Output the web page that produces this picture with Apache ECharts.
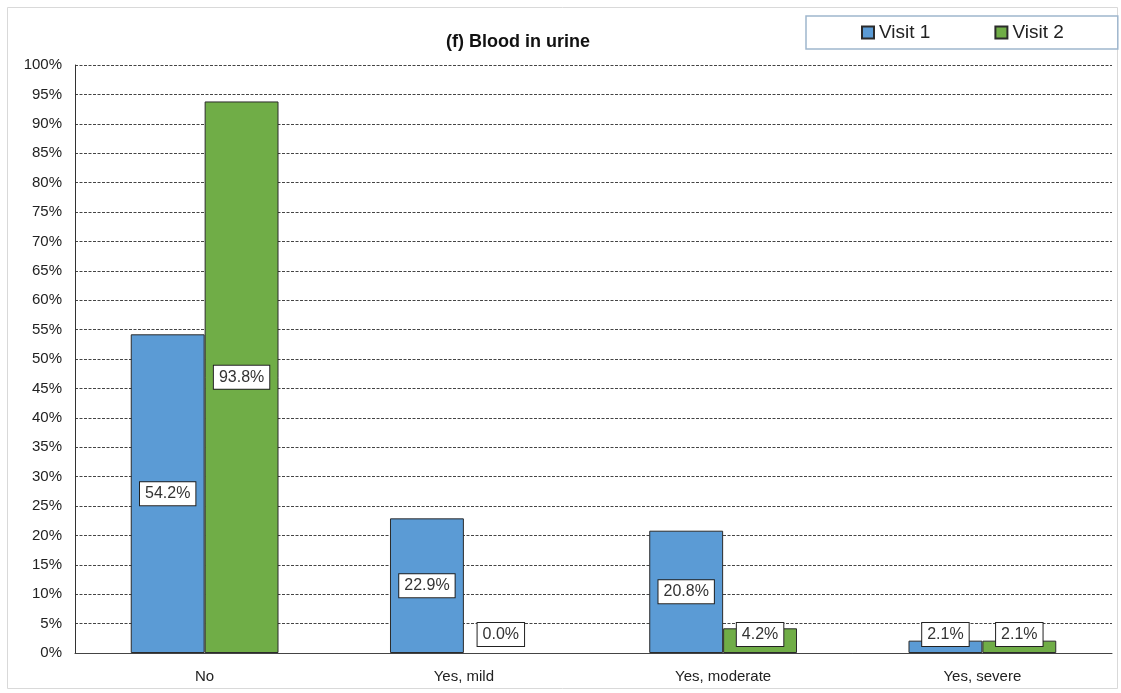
<!DOCTYPE html>
<html><head><meta charset="utf-8">
<script src="https://cdn.jsdelivr.net/npm/echarts@6/dist/echarts.min.js"></script>
<style>html,body{margin:0;padding:0;background:#fff}#c{width:1121px;height:693px}</style>
</head><body><div id="c"></div>
<script>
const categories = ['No', 'Yes, mild', 'Yes, moderate', 'Yes, severe'];
const visit1 = [54.2, 22.9, 20.8, 2.1];
const visit2 = [93.8, 0.0, 4.2, 2.1];
const seriesNames = ['Visit 1', 'Visit 2'];
const yTicks = { min: 0, max: 100, interval: 5 };

const font = 'Liberation Sans, Arial, sans-serif';
function labelFor(v) {
  const small = v < 6;
  return {
    show: true,
    position: small ? 'insideBottom' : 'inside',
    distance: small ? 7 : 5,
    formatter: (p) => p.value.toFixed(1) + '%',
    backgroundColor: '#fff',
    borderColor: '#222',
    borderWidth: 1,
    padding: [4, 5, 3, 5],
    color: '#333',
    fontSize: 16,
    fontFamily: font
  };
}
function mkData(arr) {
  return arr.map(v => {
    const d = { value: v, label: labelFor(v) };
    if (v === 0) d.itemStyle = { borderWidth: 0 };
    return d;
  });
}
const chart = echarts.init(document.getElementById('c'));
chart.setOption({
  animation: false,
  backgroundColor: '#fff',
  graphic: [{
    type: 'rect', shape: { x: 7.5, y: 7.5, width: 1110, height: 681 },
    style: { fill: 'none', stroke: '#d9d9d9', lineWidth: 1 }, silent: true, z: -10
  }],
  title: {
    text: '(f) Blood in urine',
    left: 513, top: 28, textAlign: 'center',
    textStyle: { fontSize: 18, fontWeight: 'bold', fontFamily: font, color: '#111' }
  },
  legend: {
    data: seriesNames,
    left: 806, top: 16,
    padding: [7, 54, 7, 55],
    itemWidth: 12, itemHeight: 12, itemGap: 64,
    borderColor: '#9fb6cd', borderWidth: 1.5,
    backgroundColor: '#fff',
    textStyle: { fontSize: 19, fontFamily: font, color: '#222' },
    icon: 'rect'
  },
  grid: { left: 75, right: 9, top: 65, bottom: 40, containLabel: false },
  xAxis: {
    type: 'category', data: categories,
    axisLine: { lineStyle: { color: '#444', width: 1 } },
    axisTick: { show: false },
    axisLabel: { fontSize: 15, fontFamily: font, color: '#222', margin: 16 }
  },
  yAxis: {
    type: 'value', min: yTicks.min, max: yTicks.max, interval: yTicks.interval,
    axisLine: { show: true, lineStyle: { color: '#333', width: 1 } },
    axisTick: { show: false },
    axisLabel: { formatter: '{value}%', fontSize: 15, fontFamily: font, color: '#222', margin: 13 },
    splitLine: { show: true, lineStyle: { color: '#444', type: [3, 1.5], width: 1 } }
  },
  series: [
    { name: seriesNames[0], type: 'bar', data: mkData(visit1), barGap: '0%', barCategoryGap: '43%',
      itemStyle: { color: '#5b9bd5', borderColor: '#2b2b2b', borderWidth: 1 } },
    { name: seriesNames[1], type: 'bar', data: mkData(visit2),
      itemStyle: { color: '#70ad47', borderColor: '#2b2b2b', borderWidth: 1 } }
  ]
});
</script></body></html>
